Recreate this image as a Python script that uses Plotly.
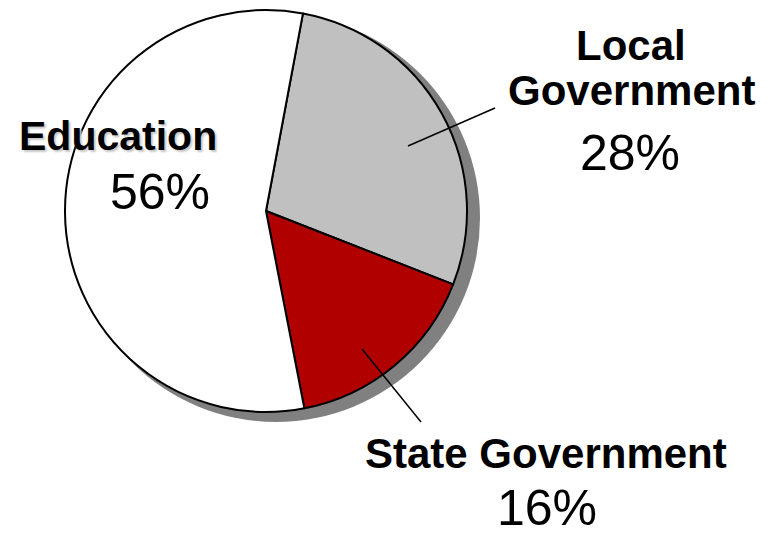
import plotly.graph_objects as go

labels = ["Local Government", "State Government", "Education"]
values = [28, 16, 56]
colors = ["#c0c0c0", "#b00000", "#ffffff"]
pct_text = ["28%", "16%", "56%"]

OFF = 8  # page body margin
W, H = 775 - OFF, 533 - OFF
def px(x): return (x - OFF) / W
def py(y): return 1 - (y - OFF) / H

cx, cy, r = 266, 211, 201
sdx, sdy, sr = 10, 7, 204

fig = go.Figure()
# shadow
fig.add_trace(go.Pie(
    values=[1], labels=["shadow"], marker=dict(colors=["#808080"], line=dict(width=0)),
    textinfo="none", hoverinfo="skip", sort=False, showlegend=False,
    domain=dict(x=[px(cx - sr + sdx), px(cx + sr + sdx)], y=[py(cy + sr + sdy), py(cy - sr + sdy)]),
))
fig.add_trace(go.Pie(
    values=values, labels=labels, marker=dict(colors=colors, line=dict(color="black", width=2)),
    textinfo="none", hoverinfo="label+percent", sort=False, direction="clockwise",
    rotation=10.6, showlegend=False,
    domain=dict(x=[px(cx - r), px(cx + r)], y=[py(cy + r), py(cy - r)]),
))

bold = dict(family="Liberation Sans, Arial, sans-serif", size=42, color="black")
reg = dict(family="Liberation Sans, Arial, sans-serif", size=50, color="black")

ann = []
def add(text, x, y, font):
    ann.append(dict(text=text, x=px(x), y=py(y), xref="paper", yref="paper",
                    xanchor="center", yanchor="middle", showarrow=False, font=font))

add("<b>Local</b>", 631, 45, bold)
add("<b>Government</b>", 631, 91, bold)
add(pct_text[0], 630, 153, reg)
add("<b>State Government</b>", 546, 453, bold)
add(pct_text[1], 547, 508, reg)
ed_font = dict(bold, size=41, shadow="2px 2px 2px #c8c8c8")
add("<b>Education</b>", 118, 136, ed_font)
add(pct_text[2], 160, 192, reg)

shapes = [
    dict(type="line", xref="paper", yref="paper", x0=px(408), y0=py(146), x1=px(495), y1=py(108),
         line=dict(color="black", width=1.5)),
    dict(type="line", xref="paper", yref="paper", x0=px(362), y0=py(349), x1=px(421), y1=py(422),
         line=dict(color="black", width=1.5)),
]

fig.update_layout(width=W, height=H, margin=dict(l=0, r=0, t=0, b=0),
                  paper_bgcolor="white", plot_bgcolor="white",
                  annotations=ann, shapes=shapes)
fig.write_html("out.html")
